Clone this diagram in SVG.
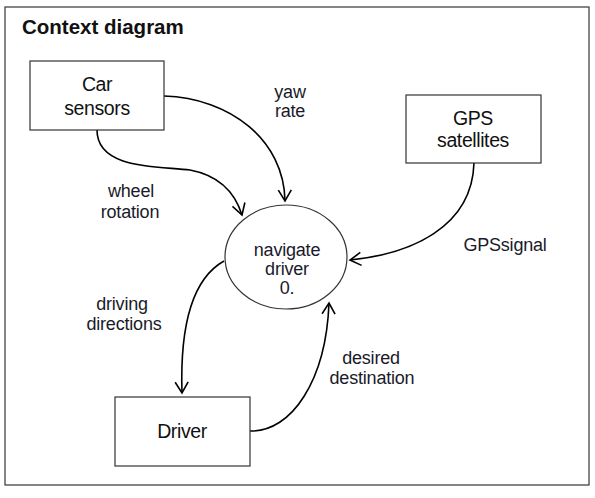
<svg xmlns="http://www.w3.org/2000/svg" width="595" height="498" viewBox="0 0 595 498">
<defs>
<marker id="arr" markerWidth="16" markerHeight="16" refX="13" refY="8" orient="auto" markerUnits="userSpaceOnUse">
<polyline points="2,1.5 13,8 2,14.5" fill="none" stroke="#000" stroke-width="1.6"/>
</marker>
<style>
.box{fill:#fff;stroke:#333;stroke-width:1.2}
.t{font-family:"Liberation Sans",Arial,sans-serif;font-size:19.5px;fill:#111;text-anchor:middle;letter-spacing:-0.4px}
.l{font-family:"Liberation Sans",Arial,sans-serif;font-size:18px;fill:#1a1a2a;text-anchor:middle;letter-spacing:-0.2px}
.c{fill:none;stroke:#000;stroke-width:1.6;marker-end:url(#arr)}
</style>
</defs>
<rect x="0" y="0" width="595" height="498" fill="#fff"/>
<rect x="5" y="7" width="584" height="478" fill="none" stroke="#444" stroke-width="1.3"/>
<text x="22" y="34" font-family="'Liberation Sans',Arial,sans-serif" font-size="20.5" font-weight="bold" fill="#111">Context diagram</text>
<g id="connectors">
<path class="c" d="M164,96 C230,98 284,140 285,201"/>
<path class="c" d="M97,130 C97,170 160,166 190,170 C222,176 236,196 242,215"/>
<path class="c" d="M474,163 C472,228 410,254 350,260"/>
<path class="c" d="M224,261 C190,280 180,330 182,393"/>
<path class="c" d="M250,431 C292,432 326,380 329,303"/>
</g>
<g id="car-sensors">
<rect class="box" x="30" y="61" width="134" height="69"/>
<text class="t" x="97" y="91">Car</text>
<text class="t" x="97" y="115">sensors</text>
</g>
<g id="gps-satellites">
<rect class="box" x="406" y="95" width="135" height="68"/>
<text class="t" x="473" y="125">GPS</text>
<text class="t" x="473" y="147">satellites</text>
</g>
<g id="navigate-driver">
<ellipse cx="286" cy="257" rx="61" ry="52" fill="#fff" stroke="#333" stroke-width="1.2"/>
<text class="l" x="287" y="256">navigate</text>
<text class="l" x="287" y="275">driver</text>
<text class="l" x="287" y="294">0.</text>
</g>
<g id="driver">
<rect class="box" x="115" y="397" width="135" height="69"/>
<text class="t" x="182" y="438">Driver</text>
</g>
<g id="labels">
<text class="l" x="290" y="98">yaw</text>
<text class="l" x="290" y="117">rate</text>
<text class="l" x="131" y="197">wheel</text>
<text class="l" x="130" y="218">rotation</text>
<text class="l" x="505" y="251" letter-spacing="-0.8">GPSsignal</text>
<text class="l" x="122" y="310">driving</text>
<text class="l" x="124" y="330">directions</text>
<text class="l" x="371" y="364">desired</text>
<text class="l" x="372" y="384">destination</text>
</g>
</svg>
